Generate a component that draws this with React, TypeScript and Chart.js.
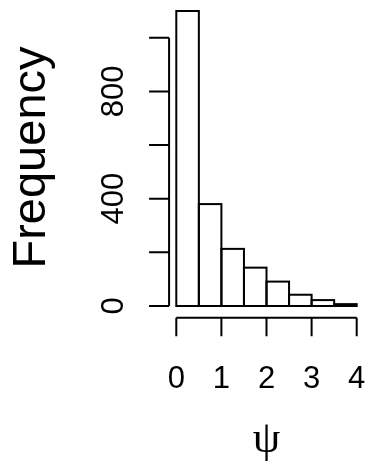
import React, { useEffect, useRef } from "react";
import { Chart, registerables } from "chart.js";

Chart.register(...registerables);

const binMids = [0.25, 0.75, 1.25, 1.75, 2.25, 2.75, 3.25, 3.75];
const counts = [1100, 380, 213, 143, 91, 42, 22, 7];
const yTicks = [0, 200, 400, 600, 800, 1000];
const yTickLabels = ["0", "", "400", "", "800", ""];
const xTicks = [0, 1, 2, 3, 4];
const xTickLabels = ["0", "1", "2", "3", "4"];
const yTitle = "Frequency";
const xTitle = "\u03C8";

const rAxesPlugin = {
  id: "rAxes",
  afterDatasetsDraw(chart: any) {
    const ctx = chart.ctx;
    const xs = chart.scales.x;
    const ys = chart.scales.y;
    ctx.save();
    // bar outlines
    const meta = chart.getDatasetMeta(0);
    ctx.strokeStyle = "#000";
    ctx.lineWidth = 2;
    meta.data.forEach((el: any) => {
      const p = el.getProps(["x", "y", "base", "width"], true);
      ctx.strokeRect(p.x - p.width / 2, p.y, p.width, p.base - p.y);
    });
    // y axis
    const ax = xs.getPixelForValue(-0.16);
    ctx.beginPath();
    ctx.moveTo(ax, ys.getPixelForValue(yTicks[0]));
    ctx.lineTo(ax, ys.getPixelForValue(yTicks[yTicks.length - 1]));
    yTicks.forEach((v) => {
      const py = ys.getPixelForValue(v);
      ctx.moveTo(ax, py);
      ctx.lineTo(ax - 20, py);
    });
    // x axis
    const ay = ys.getPixelForValue(-44);
    ctx.moveTo(xs.getPixelForValue(xTicks[0]), ay);
    ctx.lineTo(xs.getPixelForValue(xTicks[xTicks.length - 1]), ay);
    xTicks.forEach((v) => {
      const px = xs.getPixelForValue(v);
      ctx.moveTo(px, ay);
      ctx.lineTo(px, ay + 18.5);
    });
    ctx.stroke();

    ctx.fillStyle = "#000";
    ctx.font = '31px "Liberation Sans", Arial, sans-serif';
    ctx.textAlign = "center";
    ctx.textBaseline = "alphabetic";
    xTicks.forEach((v, i) => {
      ctx.fillText(xTickLabels[i], xs.getPixelForValue(v), ay + 70);
    });
    yTicks.forEach((v, i) => {
      if (!yTickLabels[i]) return;
      ctx.save();
      ctx.translate(ax - 46, ys.getPixelForValue(v));
      ctx.rotate(-Math.PI / 2);
      ctx.fillText(yTickLabels[i], 0, 0);
      ctx.restore();
    });
    // titles
    ctx.save();
    ctx.font = '47px "Liberation Sans", Arial, sans-serif';
    ctx.translate(45.3, 157.5);
    ctx.rotate(-Math.PI / 2);
    ctx.fillText(yTitle, 0, 0);
    ctx.restore();
    ctx.font = '44px "Liberation Serif", "DejaVu Serif", serif';
    ctx.fillText(xTitle, (xs.left + xs.right) / 2, 452);
    ctx.restore();
  },
};

export default function App() {
  const ref = useRef<HTMLCanvasElement>(null);
  useEffect(() => {
    document.body.style.margin = "0";
    const chart = new Chart(ref.current as HTMLCanvasElement, {
      type: "bar",
      data: {
        datasets: [
          {
            data: binMids.map((x, i) => ({ x, y: counts[i] })),
            backgroundColor: "#ffffff",
            borderWidth: 0,
            barPercentage: 1,
            categoryPercentage: 1,
          },
        ],
      },
      options: {
        animation: false,
        responsive: false,
        devicePixelRatio: 1,
        layout: { padding: { left: 176.3, right: 9.3, top: 11, bottom: 158 } },
        plugins: { legend: { display: false }, tooltip: { enabled: false } },
        scales: {
          x: { type: "linear", min: 0, max: 4, offset: false, display: false, grid: { offset: false } },
          y: { type: "linear", min: 0, max: 1100, display: false },
        },
      },
      plugins: [rAxesPlugin],
    });
    return () => chart.destroy();
  }, []);
  return (
    <div style={{ width: 366, height: 464, background: "#fff" }}>
      <canvas ref={ref} width={366} height={464} style={{ display: "block" }} />
    </div>
  );
}
